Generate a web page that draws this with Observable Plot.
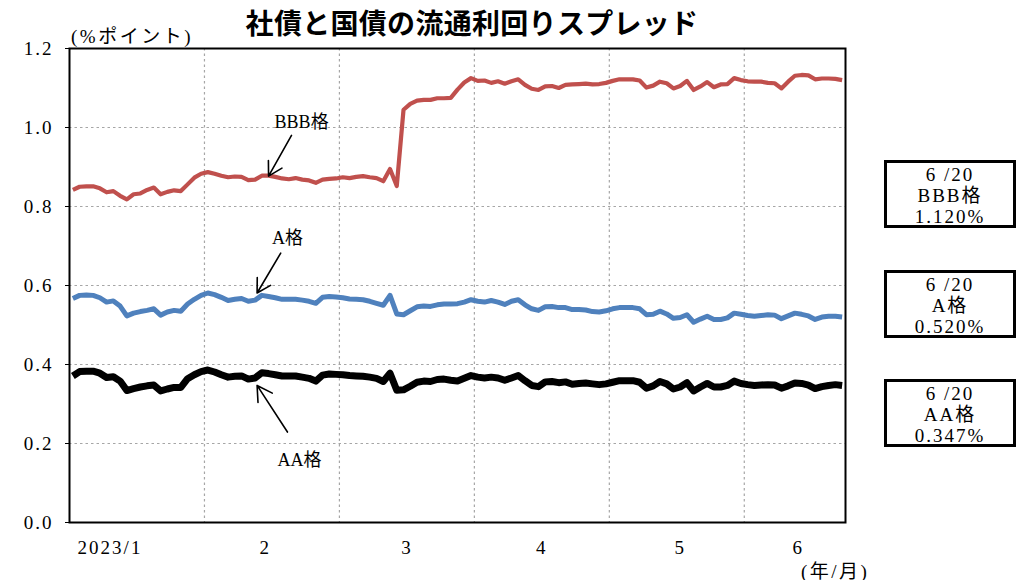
<!DOCTYPE html>
<html><head><meta charset="utf-8">
<script src="https://cdn.jsdelivr.net/npm/d3@7"></script>
<script src="https://cdn.jsdelivr.net/npm/@observablehq/plot@0.6"></script>
<style>
body{margin:0;background:#fff;}
#wrap{position:relative;width:1032px;height:580px;font-family:"Liberation Serif","Noto Sans CJK JP",serif;color:#000;}
#chart{position:absolute;left:0;top:0;}
#title{position:absolute;left:0;width:944px;top:7px;text-align:center;font-family:"Noto Sans CJK JP",sans-serif;font-weight:700;font-size:28px;line-height:30px;letter-spacing:0.3px;}
#unit{position:absolute;left:71px;top:21px;font-size:19px;letter-spacing:2.5px;}
#xunit{position:absolute;left:801px;top:556px;font-size:19px;letter-spacing:2.5px;}
.box{position:absolute;left:884px;width:126px;height:61px;border:3px solid #000;text-align:center;font-size:19px;line-height:21px;letter-spacing:2px;padding-top:1px;box-sizing:content-box;background:#fff;overflow:hidden;}
</style></head>
<body>
<div id="wrap">
  <div id="chart"></div>
  <div id="title">社債と国債の流通利回りスプレッド</div>
  <div id="unit">(%ポイント)</div>
  <div id="xunit">(年/月)</div>
</div>
<script>
// ---- data (business-day series, 2023/1/4 - 2023/6/20) ----
const bbb = [
.842,.850,.851,.851,.846,.836,.839,.827,.818,.831,
.833,.842,.848,.831,.837,.841,.839,.856,.873,.883,
.887,.883,.878,.874,.876,.875,.867,.868,.878,.878,
.875,.871,.869,.872,.868,.866,.860,.868,.870,.871,
.874,.872,.875,.877,.874,.872,.864,.895,.852,1.045,
1.060,1.068,1.070,1.070,1.074,1.074,1.075,1.096,1.114,1.125,
1.118,1.119,1.113,1.117,1.111,1.117,1.122,1.108,1.098,1.095,
1.104,1.105,1.100,1.108,1.109,1.110,1.111,1.109,1.110,1.113,
1.118,1.122,1.122,1.122,1.119,1.101,1.106,1.116,1.112,1.099,
1.105,1.118,1.095,1.104,1.115,1.102,1.109,1.110,1.125,1.120,
1.117,1.116,1.116,1.113,1.112,1.099,1.116,1.131,1.133,1.132,
1.122,1.124,1.124,1.123,1.120];
const aRated = [
.567,.575,.576,.575,.569,.558,.561,.548,.523,.530,
.534,.537,.541,.525,.533,.537,.535,.553,.565,.575,
.581,.577,.570,.562,.565,.567,.560,.563,.575,.572,
.569,.565,.565,.565,.563,.560,.555,.570,.572,.571,
.569,.566,.565,.564,.560,.555,.550,.575,.528,.526,
.536,.546,.548,.547,.551,.553,.553,.554,.558,.564,
.560,.558,.562,.558,.552,.560,.564,.551,.541,.537,
.546,.547,.544,.544,.539,.539,.538,.534,.533,.536,
.541,.544,.544,.544,.541,.526,.527,.535,.528,.517,
.519,.526,.507,.515,.522,.514,.514,.518,.530,.527,
.524,.522,.524,.526,.525,.516,.523,.530,.527,.523,
.514,.520,.522,.522,.520];
const aa = [
.371,.382,.383,.383,.378,.367,.369,.358,.334,.339,
.343,.346,.348,.333,.338,.342,.342,.364,.374,.382,
.386,.381,.374,.368,.370,.371,.363,.366,.379,.377,
.374,.371,.371,.371,.368,.365,.358,.373,.376,.375,
.374,.372,.371,.370,.368,.365,.357,.378,.335,.336,
.345,.355,.358,.357,.362,.363,.360,.358,.365,.372,
.368,.366,.368,.366,.360,.366,.372,.359,.347,.344,
.356,.357,.354,.356,.350,.352,.353,.351,.349,.351,
.355,.359,.359,.359,.355,.340,.346,.357,.351,.338,
.343,.354,.333,.343,.352,.343,.343,.347,.358,.352,
.349,.347,.348,.349,.348,.340,.346,.353,.352,.348,
.339,.344,.347,.349,.347];

const seriesNames = ["BBB格", "A格", "AA格"];
const seriesColors = ["#c0504d", "#4f81bd", "#000000"];
const seriesWidths = [4.2, 5, 7];
const monthLabels = ["2023/1", "2", "3", "4", "5", "6"];
const monthLabelPos = [6, 29, 50, 70, 90.5, 108];
const gridX = [20, 40, 60, 80, 100];
const yTicks = [0, 0.2, 0.4, 0.6, 0.8, 1.0, 1.2];
const lastDate = "6 /20";
const annotations = [
  {label: "BBB格", x1: 32.9, y1: 0.980, x2: 29.5, y2: 0.877, tx: 34.4, ty: 1.013},
  {label: "A格",   x1: 31.3, y1: 0.682, x2: 27.8, y2: 0.581, tx: 32.3, ty: 0.719},
  {label: "AA格",  x1: 32.3, y1: 0.229, x2: 27.8, y2: 0.347, tx: 34.1, ty: 0.157}
];

const allSeries = [bbb, aRated, aa];
const rows = allSeries.map((vals, s) => vals.map((v, i) => ({x: i + 0.5, y: v, s})));
const labelByPos = new Map(monthLabelPos.map((p, i) => [p, monthLabels[i]]));
const serif = "'Liberation Serif','Noto Sans CJK JP',serif";

const chart = Plot.plot({
  width: 1032, height: 580,
  marginLeft: 69, marginRight: 187, marginTop: 48, marginBottom: 58,
  x: {domain: [0, 115], axis: null},
  y: {domain: [0, 1.2], axis: null},
  style: {fontFamily: serif, fontSize: "19px", color: "#000", background: "transparent"},
  marks: [
    Plot.ruleY(yTicks.slice(1, -1), {stroke: "#a6a6a6", strokeWidth: 1.2, strokeDasharray: "2.5,3"}),
    Plot.ruleX(gridX, {stroke: "#a6a6a6", strokeWidth: 1.2, strokeDasharray: "2.5,3"}),
    Plot.axisY({ticks: yTicks, tickFormat: d3.format(".1f"), tickSize: 4, tickPadding: 12, label: null, fontSize: 19}),
    Plot.axisX({ticks: monthLabelPos, tickFormat: d => labelByPos.get(d), tickSize: 0, tickPadding: 18, label: null, fontSize: 19}),
    ...rows.map((r, s) => Plot.line(r, {x: "x", y: "y", stroke: seriesColors[s], strokeWidth: seriesWidths[s], strokeLinejoin: "round", strokeLinecap: "butt"})),
    Plot.frame({stroke: "#000", strokeWidth: 2}),
    Plot.arrow(annotations, {x1: "x1", y1: "y1", x2: "x2", y2: "y2", stroke: "#000", strokeWidth: 1.6, headLength: 16, headAngle: 60}),
    Plot.text(annotations, {x: "tx", y: "ty", text: "label", fontSize: 18, fill: "#000", fontFamily: serif})
  ]
});
document.getElementById("chart").appendChild(chart);
d3.select(chart).selectAll("g[aria-label='y-axis tick label'] text, g[aria-label='x-axis tick label'] text").style("letter-spacing", "2px");

// latest-value boxes
const boxTops = [160, 270, 379];
const fmt = d3.format(".3f");
const wrap = document.getElementById("wrap");
allSeries.forEach((vals, s) => {
  const b = document.createElement("div");
  b.className = "box";
  b.style.top = boxTops[s] + "px";
  b.innerHTML = `${lastDate}<br>${seriesNames[s]}<br>${fmt(vals[vals.length - 1])}%`;
  wrap.appendChild(b);
});
</script>
</body></html>
